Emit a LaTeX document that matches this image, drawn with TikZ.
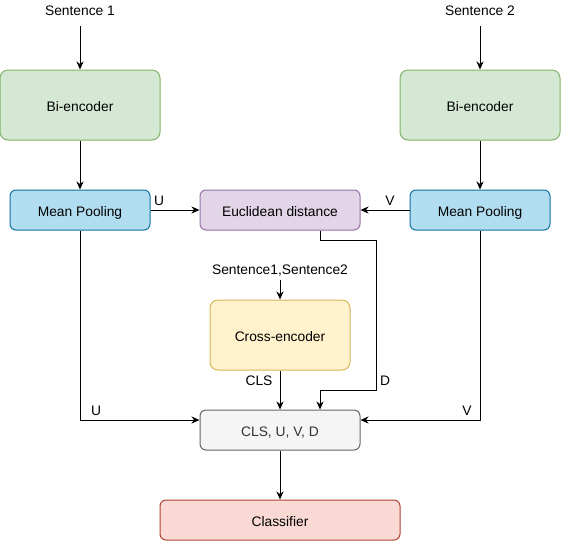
\documentclass[tikz,border=0pt]{standalone}
\usepackage{fontspec}
\setmainfont{Liberation Sans}
\usetikzlibrary{arrows.meta}
\definecolor{gfill}{HTML}{D5E8D4}\definecolor{gline}{HTML}{82B366}
\definecolor{bfill}{HTML}{B1DDF0}\definecolor{bline}{HTML}{10739E}
\definecolor{pfill}{HTML}{E1D5E7}\definecolor{pline}{HTML}{9673A6}
\definecolor{yfill}{HTML}{FFF2CC}\definecolor{yline}{HTML}{D6B656}
\definecolor{kfill}{HTML}{F5F5F5}\definecolor{kline}{HTML}{666666}\definecolor{ktext}{HTML}{333333}
\definecolor{rfill}{HTML}{FAD9D5}\definecolor{rline}{HTML}{AE4132}
\begin{document}
\begin{tikzpicture}[x=1pt,y=-1pt,
  font=\fontsize{13.8}{16}\selectfont,
  box/.style={draw, line width=1pt, rounded corners=8pt, inner sep=0pt, align=center, text height=12.5pt, text depth=0pt},
  lbl/.style={inner sep=0pt},
  conn/.style={line width=1pt, -{Stealth[length=8pt,width=7pt,inset=2.5pt]}}]
\useasboundingbox (0,0) rectangle (561,541);
\node[lbl] (s1) at (80,11) {Sentence 1};
\node[lbl] (s2) at (480,11) {Sentence 2};
\node[box, fill=gfill, draw=gline, minimum width=160pt, minimum height=70pt] (be1) at (80,105) {Bi-encoder};
\node[box, fill=gfill, draw=gline, minimum width=160pt, minimum height=70pt] (be2) at (480,105) {Bi-encoder};
\node[box, fill=bfill, draw=bline, minimum width=140pt, minimum height=40pt, rounded corners=6pt] (mp1) at (80,210) {Mean Pooling};
\node[box, fill=bfill, draw=bline, minimum width=140pt, minimum height=40pt, rounded corners=6pt] (mp2) at (480,210) {Mean Pooling};
\node[box, fill=pfill, draw=pline, minimum width=160pt, minimum height=40pt, rounded corners=6pt] (euc) at (280,210) {Euclidean distance};
\node[lbl] (ss) at (280,271) {Sentence1,Sentence2};
\node[box, fill=yfill, draw=yline, minimum width=140pt, minimum height=70pt] (ce) at (280,335) {Cross-encoder};
\node[box, fill=kfill, draw=kline, text=ktext, minimum width=160pt, minimum height=40pt, rounded corners=6pt] (cls) at (280,430) {CLS, U, V, D};
\node[box, fill=rfill, draw=rline, minimum width=240pt, minimum height=40pt, rounded corners=6pt] (clf) at (280,520) {Classifier};

\node[lbl] (lu1) at (159,201) {U};
\node[lbl] (lv1) at (390,201) {V};
\node[lbl] (lcls) at (259,381) {CLS};
\node[lbl] (ld) at (385,381) {D};
\node[lbl] (lu2) at (96,411) {U};
\node[lbl] (lv2) at (467,411) {V};

\coordinate (d1) at (376,240);
\coordinate (d2) at (376,390);

\draw[conn] ([yshift=-10pt]s1.south) -- (be1.north);
\draw[conn] ([yshift=-10pt]s2.south) -- (be2.north);
\draw[conn] (be1.south) -- (mp1.north);
\draw[conn] (be2.south) -- (mp2.north);
\draw[conn] (mp1.east) -- (euc.west);
\draw[conn] (mp2.west) -- (euc.east);
\draw[conn] ([yshift=-3pt]ss.south) -- (ce.north);
\draw[conn] (ce.south) -- (cls.north);
\draw[conn] ([xshift=40pt]euc.south) |- (d1) -- (d2) -| ([xshift=40pt]cls.north);
\draw[conn] (mp1.south) |- ([yshift=10pt]cls.west);
\draw[conn] (mp2.south) |- ([yshift=10pt]cls.east);
\draw[conn] (cls.south) -- (clf.north);
\end{tikzpicture}
\end{document}
